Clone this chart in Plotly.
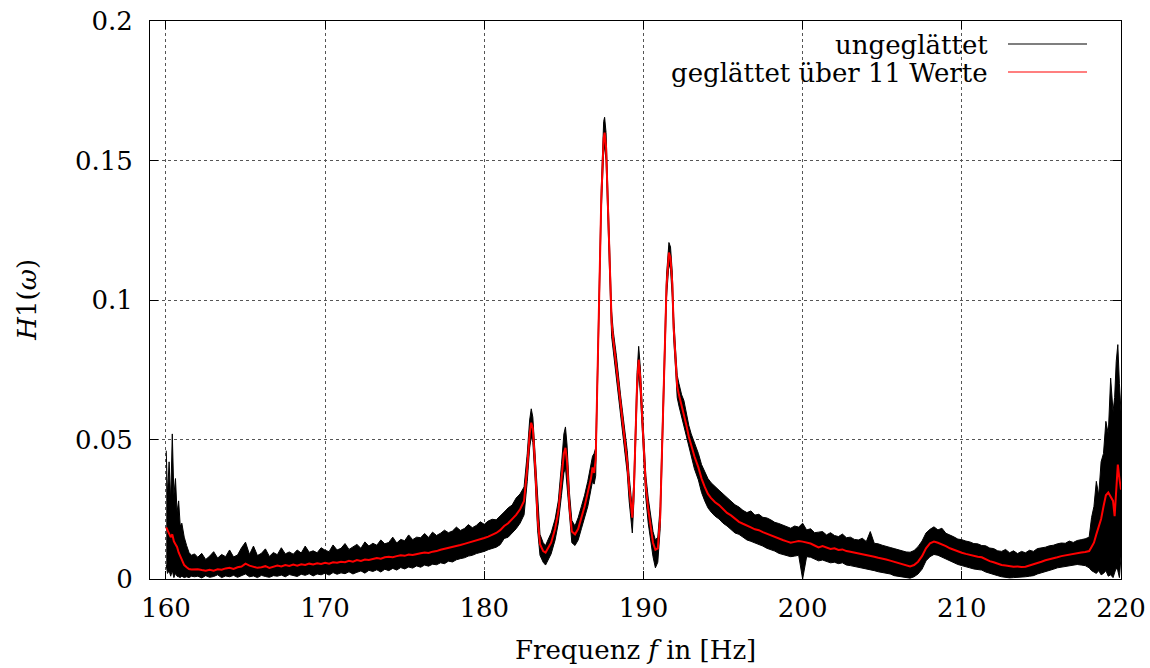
import plotly.graph_objects as go

# ---------------- data ----------------
FREQ_HZ = [
    160.02, 160.1, 160.2, 160.3, 160.4, 160.5, 160.6, 160.7, 160.8, 160.9,
    161.0, 161.15, 161.3, 161.45, 161.6, 161.8,
    162.0, 162.25, 162.5, 162.75, 163.0, 163.25, 163.5, 163.75, 164.0, 164.25,
    164.5, 164.75, 165.0, 165.25, 165.5, 165.75, 166.0, 166.25, 166.5, 166.75,
    167.0, 167.25, 167.5, 167.75, 168.0, 168.25, 168.5, 168.75, 169.0, 169.25,
    169.5, 169.75, 170.0, 170.25, 170.5, 170.75, 171.0, 171.25, 171.5, 171.75,
    172.0, 172.25, 172.5, 172.75, 173.0, 173.25, 173.5, 173.75, 174.0, 174.25,
    174.5, 174.75, 175.0, 175.25, 175.5, 175.75, 176.0, 176.25, 176.5, 176.75,
    177.0, 177.25, 177.5, 177.75, 178.0, 178.25, 178.5, 178.75, 179.0, 179.25,
    179.5, 179.75, 180.0, 180.25, 180.5, 180.75, 181.0,
    181.25, 181.5, 181.75, 182.0, 182.25, 182.5, 182.7, 182.85, 182.95, 183.05,
    183.2, 183.35, 183.5, 183.7, 183.85, 184.0, 184.2, 184.45, 184.65, 184.85,
    185.0, 185.1, 185.2, 185.35, 185.5, 185.7, 185.9, 186.1, 186.3, 186.5,
    186.7, 186.8, 186.9, 187.0, 187.1, 187.2, 187.35, 187.5, 187.56, 187.65,
    187.83, 188.0, 188.1, 188.3, 188.56, 188.77, 188.98, 189.1, 189.2, 189.3,
    189.4, 189.5, 189.6, 189.7, 189.8, 189.92, 190.05, 190.15, 190.3, 190.45,
    190.6, 190.75, 190.9, 191.05, 191.15, 191.28, 191.45, 191.6, 191.7, 191.81,
    191.9, 192.02, 192.12, 192.23, 192.4, 192.54, 192.7, 192.85, 193.0, 193.2,
    193.45, 193.65, 193.85, 194.05, 194.25,
    194.5, 194.75, 195.0, 195.25, 195.5, 195.75, 196.0, 196.25, 196.5, 196.75,
    197.0, 197.25, 197.5, 197.75, 198.0, 198.25, 198.5, 198.75, 199.0, 199.25,
    199.5, 199.75, 200.0, 200.25, 200.5, 200.75, 201.0, 201.25, 201.5, 201.75,
    202.0, 202.25, 202.5, 202.75, 203.0, 203.25, 203.5, 203.75, 204.0, 204.25,
    204.5, 204.75, 205.0, 205.25, 205.5, 205.75, 206.0, 206.25, 206.5, 206.75,
    207.0, 207.25, 207.5, 207.75, 208.0, 208.25, 208.5, 208.75, 209.0, 209.25,
    209.5, 209.75, 210.0, 210.25, 210.5, 210.75, 211.0, 211.25, 211.5, 211.75,
    212.0, 212.25, 212.5, 212.75, 213.0, 213.25, 213.5, 213.75, 214.0, 214.25,
    214.5, 214.75, 215.0, 215.25, 215.5, 215.75, 216.0, 216.25, 216.5, 216.75,
    217.0, 217.25, 217.5, 217.75, 218.0,
    218.15, 218.3, 218.45, 218.6, 218.75, 218.9, 219.05, 219.2, 219.35, 219.5,
    219.6, 219.7, 219.8, 219.9, 220.0,
]

# smoothed curve (moving average over 11 values)
H1_SMOOTH = [
    .0185, .0175, .0160, .0150, .0160, .0135, .0125, .0115, .0095, .0080,
    .0065, .0050, .0042, .0036, .0034, .0035,
    .0035, .0032, .0030, .0033, .0030, .0035, .0033, .0038, .0040, .0036,
    .0042, .0045, .0055, .0048, .0045, .0040, .0042, .0046, .0040, .0044,
    .0048, .0045, .0050, .0047, .0052, .0048, .0053, .0050, .0055, .0052,
    .0056, .0054, .0058, .0055, .0060, .0058, .0062, .0060, .0065, .0062,
    .0068, .0065, .0070, .0068, .0072, .0075, .0073, .0078, .0080, .0078,
    .0082, .0085, .0083, .0088, .0086, .0090, .0092, .0095, .0093, .0098,
    .0100, .0105, .0108, .0112, .0115, .0118, .0122, .0126, .0130, .0133,
    .0138, .0142, .0147, .0152, .0158, .0165, .0175,
    .0190, .0200, .0215, .0230, .0250, .0280, .0400, .0520, .0560, .0540,
    .0400, .0220, .0125, .0100, .0095, .0110, .0130, .0180, .0240, .0360,
    .0450, .0470, .0420, .0260, .0170, .0160, .0180, .0220, .0260, .0310,
    .0360, .0400, .0380, .0430, .0700, .1000, .1360, .1580, .1600, .1550,
    .1240, .0920, .0860, .0760, .0620, .0520, .0420, .0330, .0270, .0220,
    .0320, .0520, .0700, .0786, .0720, .0580, .0420, .0330, .0250, .0190,
    .0130, .0105, .0110, .0220, .0450, .0760, .1050, .1170, .1150, .1060,
    .0900, .0786, .0690, .0660, .0620, .0596, .0550, .0510, .0480, .0440,
    .0400, .0360, .0330, .0305, .0290,
    .0275, .0265, .0250, .0237, .0228, .0215, .0205, .0198, .0190, .0185,
    .0178, .0175, .0168, .0162, .0157, .0150, .0145, .0140, .0135, .0130,
    .0133, .0136, .0134, .0130, .0127, .0120, .0113, .0118, .0112, .0108,
    .0110, .0104, .0106, .0100, .0098, .0095, .0093, .0090, .0088, .0085,
    .0080, .0076, .0074, .0070, .0066, .0062, .0058, .0055, .0050, .0045,
    .0050, .0062, .0082, .0110, .0128, .0134, .0130, .0125, .0118, .0110,
    .0104, .0098, .0094, .0090, .0086, .0082, .0080, .0078, .0070, .0064,
    .0060, .0055, .0050, .0048, .0046, .0044, .0045, .0043, .0044, .0048,
    .0052, .0058, .0062, .0067, .0070, .0074, .0078, .0082, .0085, .0088,
    .0090, .0092, .0095, .0097, .0100,
    .0115, .0130, .0160, .0185, .0215, .0260, .0300, .0310, .0295, .0280,
    .0225, .0300, .0410, .0360, .0320,
]

# upper envelope of the unsmoothed (noisy) data
H1_RAW_MAX = [
    .0460, .0300, .0420, .0280, .0520, .0300, .0360, .0240, .0280, .0190,
    .0200, .0150, .0120, .0095, .0085, .0090,
    .0078, .0092, .0070, .0082, .0098, .0075, .0088, .0080, .0104, .0079,
    .0086, .0112, .0132, .0088, .0118, .0084, .0092, .0108, .0081, .0095,
    .0087, .0112, .0090, .0097, .0089, .0104, .0093, .0118, .0096, .0101,
    .0094, .0112, .0103, .0098, .0122, .0104, .0110, .0127, .0106, .0116,
    .0124, .0110, .0133, .0118, .0128, .0121, .0140, .0126, .0131, .0150,
    .0129, .0142, .0137, .0158, .0141, .0150, .0148, .0163, .0149, .0168,
    .0156, .0164, .0175, .0166, .0172, .0186, .0174, .0181, .0195, .0184,
    .0192, .0205, .0196, .0208, .0214, .0212, .0228,
    .0240, .0255, .0265, .0290, .0305, .0330, .0450, .0570, .0610, .0580,
    .0440, .0260, .0160, .0130, .0120, .0140, .0165, .0215, .0280, .0410,
    .0520, .0545, .0480, .0310, .0210, .0190, .0220, .0260, .0300, .0350,
    .0410, .0440, .0450, .0470, .0730, .1030, .1400, .1640, .1655, .1600,
    .1280, .0960, .0890, .0800, .0660, .0560, .0460, .0370, .0310, .0250,
    .0360, .0550, .0740, .0834, .0760, .0620, .0460, .0370, .0290, .0230,
    .0170, .0140, .0150, .0260, .0490, .0800, .1090, .1206, .1190, .1100,
    .0940, .0820, .0730, .0700, .0660, .0640, .0590, .0550, .0520, .0490,
    .0450, .0410, .0385, .0360, .0345,
    .0330, .0318, .0305, .0292, .0278, .0266, .0258, .0246, .0238, .0244,
    .0229, .0232, .0221, .0219, .0212, .0203, .0199, .0193, .0186, .0182,
    .0190, .0186, .0200, .0176, .0180, .0166, .0168, .0170, .0158, .0166,
    .0156, .0152, .0161, .0148, .0150, .0142, .0140, .0146, .0134, .0170,
    .0128, .0126, .0121, .0118, .0113, .0109, .0106, .0101, .0097, .0096,
    .0102, .0116, .0136, .0165, .0178, .0187, .0176, .0182, .0164, .0158,
    .0151, .0143, .0141, .0136, .0133, .0127, .0126, .0120, .0119, .0111,
    .0109, .0101, .0099, .0106, .0094, .0101, .0091, .0099, .0094, .0103,
    .0099, .0109, .0111, .0114, .0119, .0121, .0126, .0129, .0128, .0136,
    .0131, .0138, .0141, .0144, .0150,
    .0220, .0260, .0350, .0300, .0420, .0450, .0565, .0520, .0720, .0600,
    .0650, .0780, .0840, .0700, .0600,
]

# lower envelope of the unsmoothed (noisy) data
H1_RAW_MIN = [
    .0050, .0020, .0030, .0010, .0030, .0005, .0020, .0010, .0008, .0005,
    .0010, .0005, .0008, .0005, .0010, .0008,
    .0010, .0004, .0012, .0006, .0009, .0015, .0005, .0011, .0008, .0013,
    .0006, .0012, .0018, .0008, .0011, .0005, .0013, .0009, .0006, .0012,
    .0010, .0014, .0008, .0016, .0012, .0009, .0017, .0013, .0019, .0011,
    .0018, .0015, .0021, .0014, .0023, .0017, .0022, .0019, .0026, .0018,
    .0024, .0029, .0021, .0031, .0027, .0033, .0025, .0035, .0030, .0038,
    .0032, .0041, .0036, .0043, .0039, .0047, .0042, .0050, .0046, .0053,
    .0051, .0058, .0055, .0064, .0061, .0069, .0073, .0076, .0082, .0085,
    .0091, .0094, .0099, .0105, .0110, .0114, .0123,
    .0145, .0150, .0165, .0180, .0200, .0230, .0350, .0470, .0510, .0490,
    .0350, .0175, .0085, .0060, .0050, .0070, .0090, .0140, .0200, .0300,
    .0380, .0400, .0330, .0210, .0130, .0120, .0140, .0180, .0220, .0260,
    .0320, .0350, .0340, .0370, .0660, .0960, .1320, .1530, .1550, .1500,
    .1190, .0870, .0820, .0720, .0580, .0480, .0380, .0280, .0220, .0165,
    .0280, .0480, .0660, .0740, .0670, .0540, .0380, .0290, .0200, .0140,
    .0080, .0040, .0060, .0180, .0410, .0720, .1010, .1130, .1110, .1010,
    .0860, .0750, .0650, .0620, .0580, .0550, .0510, .0470, .0440, .0395,
    .0355, .0310, .0280, .0255, .0240,
    .0225, .0215, .0200, .0190, .0178, .0165, .0160, .0150, .0140, .0135,
    .0130, .0125, .0118, .0110, .0105, .0100, .0092, .0088, .0085, .0080,
    .0082, .0085, .0000, .0080, .0078, .0070, .0065, .0068, .0062, .0058,
    .0060, .0055, .0058, .0050, .0048, .0045, .0044, .0040, .0038, .0035,
    .0030, .0026, .0024, .0020, .0018, .0012, .0010, .0008, .0005, .0003,
    .0008, .0018, .0035, .0065, .0080, .0088, .0085, .0078, .0072, .0065,
    .0058, .0052, .0048, .0045, .0040, .0036, .0034, .0032, .0025, .0020,
    .0015, .0012, .0008, .0005, .0004, .0005, .0006, .0005, .0008, .0010,
    .0012, .0018, .0022, .0025, .0030, .0035, .0040, .0042, .0045, .0048,
    .0050, .0052, .0050, .0048, .0040,
    .0030, .0025, .0020, .0030, .0015, .0020, .0030, .0010, .0015, .0005,
    .0020, .0040, .0030, .0005, .0080,
]

X_TICKS = [160, 170, 180, 190, 200, 210, 220]
Y_TICKS = [0, 0.05, 0.1, 0.15, 0.2]
Y_TICK_TEXT = ["0", "0.05", "0.1", "0.15", "0.2"]
SERIES_NAMES = ["ungeglättet", "geglättet über 11 Werte"]

FONT = "DejaVu Serif"
FS = 26

fig = go.Figure()

# noisy raw data drawn as a band between its envelopes
fig.add_trace(go.Scatter(x=FREQ_HZ, y=H1_RAW_MIN, mode="lines",
                         line=dict(color="black", width=1),
                         hoverinfo="skip", showlegend=False))
fig.add_trace(go.Scatter(x=FREQ_HZ, y=H1_RAW_MAX, mode="lines",
                         line=dict(color="black", width=1),
                         fill="tonexty", fillcolor="black",
                         name=SERIES_NAMES[0], showlegend=False))
fig.add_trace(go.Scatter(x=FREQ_HZ, y=H1_SMOOTH, mode="lines",
                         line=dict(color="#ff0000", width=2),
                         name=SERIES_NAMES[1], showlegend=False))

axis_common = dict(
    showline=True, linecolor="black", linewidth=1, mirror="ticks",
    ticks="inside", ticklen=8, tickcolor="black", tickwidth=1,
    showgrid=True, gridcolor="#555555", griddash="dot", gridwidth=1,
    zeroline=False, automargin=False, ticklabeloverflow="allow",
    tickfont=dict(family=FONT, size=FS, color="black"),
)

fig.update_xaxes(range=[159, 220], tickvals=X_TICKS,
                 ticktext=[str(v) for v in X_TICKS],
                 ticklabelstandoff=6, **axis_common)
fig.update_yaxes(range=[0, 0.2], tickvals=Y_TICKS, ticktext=Y_TICK_TEXT,
                 ticklabelstandoff=11, **axis_common)

annotations = [
    dict(text="Frequenz <i>f</i> in [Hz]", x=0.5005, y=-0.127, xref="paper",
         yref="paper", showarrow=False, xanchor="center", yanchor="middle",
         font=dict(family=FONT, size=FS, color="black")),
    dict(text="<i>H</i>1(<i>ω</i>)", x=-0.127, y=0.5, xref="paper",
         yref="paper", showarrow=False, textangle=-90, xanchor="center",
         yanchor="middle", font=dict(family=FONT, size=FS, color="black")),
    dict(text=SERIES_NAMES[0], x=0.865, y=0.957, xref="paper", yref="paper",
         showarrow=False, xanchor="right", yanchor="middle",
         font=dict(family=FONT, size=FS, color="black")),
    dict(text=SERIES_NAMES[1], x=0.865, y=0.907, xref="paper", yref="paper",
         showarrow=False, xanchor="right", yanchor="middle",
         font=dict(family=FONT, size=FS, color="black")),
]
shapes = [
    dict(type="line", xref="paper", yref="paper", x0=0.8836, x1=0.965,
         y0=0.9588, y1=0.9588, line=dict(color="black", width=1.2)),
    dict(type="line", xref="paper", yref="paper", x0=0.8836, x1=0.965,
         y0=0.9086, y1=0.9086, line=dict(color="#ff0000", width=1.2)),
]

fig.update_layout(
    width=1150, height=668,
    margin=dict(l=150, r=29, t=21, b=89),
    paper_bgcolor="white", plot_bgcolor="white",
    annotations=annotations, shapes=shapes,
    font=dict(family=FONT, size=FS, color="black"),
)

# remove the default 8px page margin so the figure fills the window exactly
fig.write_html("out.html",
               config={"displayModeBar": False},
               post_script="document.body.style.margin='0';"
                           "document.body.style.overflow='hidden';")
